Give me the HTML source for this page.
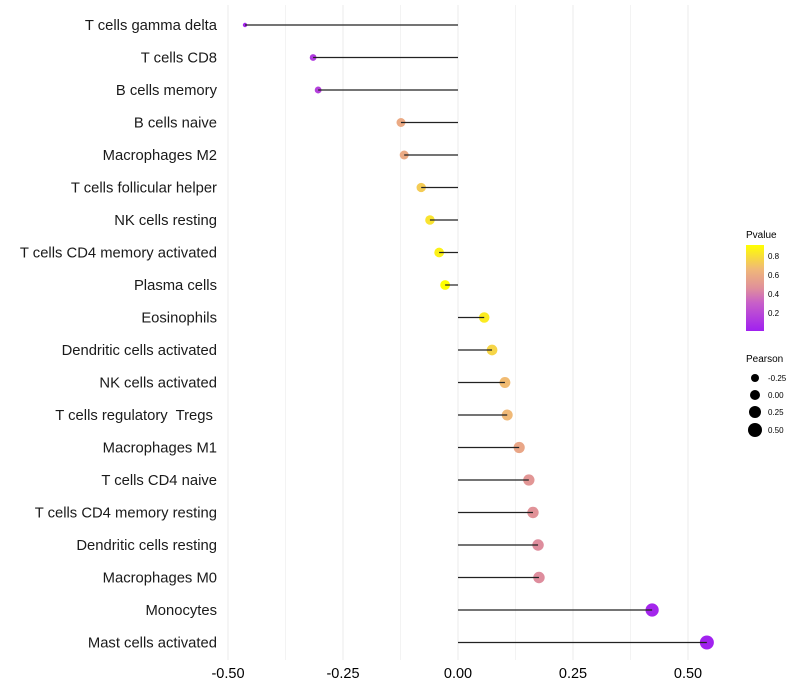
<!DOCTYPE html>
<html><head><meta charset="utf-8"><style>
html,body{margin:0;padding:0;background:#fff;}
svg{display:block;font-family:"Liberation Sans",Arial,sans-serif;}
text{white-space:pre;}
</style></head><body>
<svg id="chart" width="800" height="700" viewBox="0 0 800 700">
<g id="grid"></g>
<g id="marks"></g>
<g id="ylabels"></g>
<g id="xlabels"></g>
<g>
<defs><linearGradient id="pg" x1="0" y1="1" x2="0" y2="0">
<stop offset="0" stop-color="#A020F0"/><stop offset="0.33" stop-color="#C860C8"/><stop offset="0.5" stop-color="#E0909A"/><stop offset="0.72" stop-color="#F0B878"/><stop offset="1" stop-color="#FFFF00"/></linearGradient></defs>
<text x="746" y="238" font-size="10" fill="#000">Pvalue</text>
<rect x="746" y="245" width="18" height="86" fill="url(#pg)"/>
<text x="768" y="259" font-size="8">0.8</text>
<text x="768" y="278" font-size="8">0.6</text>
<text x="768" y="297" font-size="8">0.4</text>
<text x="768" y="316" font-size="8">0.2</text>
</g>
<g>
<text x="746" y="362" font-size="10">Pearson</text>
<circle cx="755" cy="378" r="4"/><text x="768" y="381" font-size="8">-0.25</text>
<circle cx="755" cy="395" r="5"/><text x="768" y="398" font-size="8">0.00</text>
<circle cx="755" cy="412" r="6"/><text x="768" y="415" font-size="8">0.25</text>
<circle cx="755" cy="430" r="7"/><text x="768" y="433" font-size="8">0.50</text>
</g>
</svg>
<script>
const categories=["T cells gamma delta","T cells CD8","B cells memory","B cells naive","Macrophages M2","T cells follicular helper","NK cells resting","T cells CD4 memory activated","Plasma cells","Eosinophils","Dendritic cells activated","NK cells activated","T cells regulatory  Tregs ","Macrophages M1","T cells CD4 naive","T cells CD4 memory resting","Dendritic cells resting","Macrophages M0","Monocytes","Mast cells activated"];
const pearson=[-0.463,-0.315,-0.304,-0.124,-0.117,-0.080,-0.061,-0.041,-0.028,0.057,0.074,0.102,0.107,0.133,0.154,0.163,0.174,0.176,0.422,0.541];
const pvalues=[0.03,0.12,0.15,0.58,0.58,0.72,0.80,0.85,0.9,0.83,0.75,0.66,0.65,0.56,0.48,0.46,0.44,0.44,0.03,0.01];
const xTicks=[-0.5,-0.25,0,0.25,0.5];
const xTickLabels=["-0.50","-0.25","0.00","0.25","0.50"];
const NS="http://www.w3.org/2000/svg";
const xs=v=>458+v*460;
const ys=i=>25+i*32.5;
const rs=v=>Math.sqrt(Math.max(2,5+(v+0.46)*44));
const stops=[[0,[160,32,240]],[0.33,[200,96,200]],[0.5,[224,144,154]],[0.72,[240,184,120]],[1,[255,255,0]]];
function col(p){let t=Math.min(1,Math.max(0,p/0.9));for(let k=1;k<stops.length;k++){if(t<=stops[k][0]){const a=stops[k-1],b=stops[k];const f=(t-a[0])/(b[0]-a[0]);const c=a[1].map((x,j)=>Math.round(x+(b[1][j]-x)*f));return `rgb(${c})`;}}return "rgb(255,255,0)";}
function mk(t,at,parent){const e=document.createElementNS(NS,t);for(const k in at)e.setAttribute(k,at[k]);parent.appendChild(e);return e;}
const grid=document.getElementById('grid'),marks=document.getElementById('marks'),yl=document.getElementById('ylabels'),xl=document.getElementById('xlabels');
for(let k=0;k<xTicks.length;k++){
 const g=mk('line',{x1:xs(xTicks[k]),x2:xs(xTicks[k]),y1:5,y2:660,stroke:'#ebebeb','stroke-width':1},grid);
 
 
 if(k<xTicks.length-1){const m=(xTicks[k]+xTicks[k+1])/2;const g2=mk('line',{x1:xs(m),x2:xs(m),y1:5,y2:660,stroke:'#f3f3f3','stroke-width':1},grid);
 
 }
 const t=mk('text',{x:xs(xTicks[k]),y:678,'text-anchor':'middle','font-size':14.5,fill:'#000'},xl);t.textContent=xTickLabels[k];
 
 
}
categories.forEach((c,i)=>{
 const y=ys(i);
 const pt=mk('circle',{cx:xs(pearson[i]),cy:y,r:rs(pearson[i]),fill:col(pvalues[i])},marks);
 
 
 const ln=mk('line',{x1:xs(0),x2:xs(pearson[i]),y1:y,y2:y,stroke:'#222','stroke-width':1.2},marks);
 
 
 const t=mk('text',{x:217,y:y+5,'text-anchor':'end','font-size':14.8,fill:'#1a1a1a'},yl);t.textContent=c;
 
 
});
</script>
</body></html>
